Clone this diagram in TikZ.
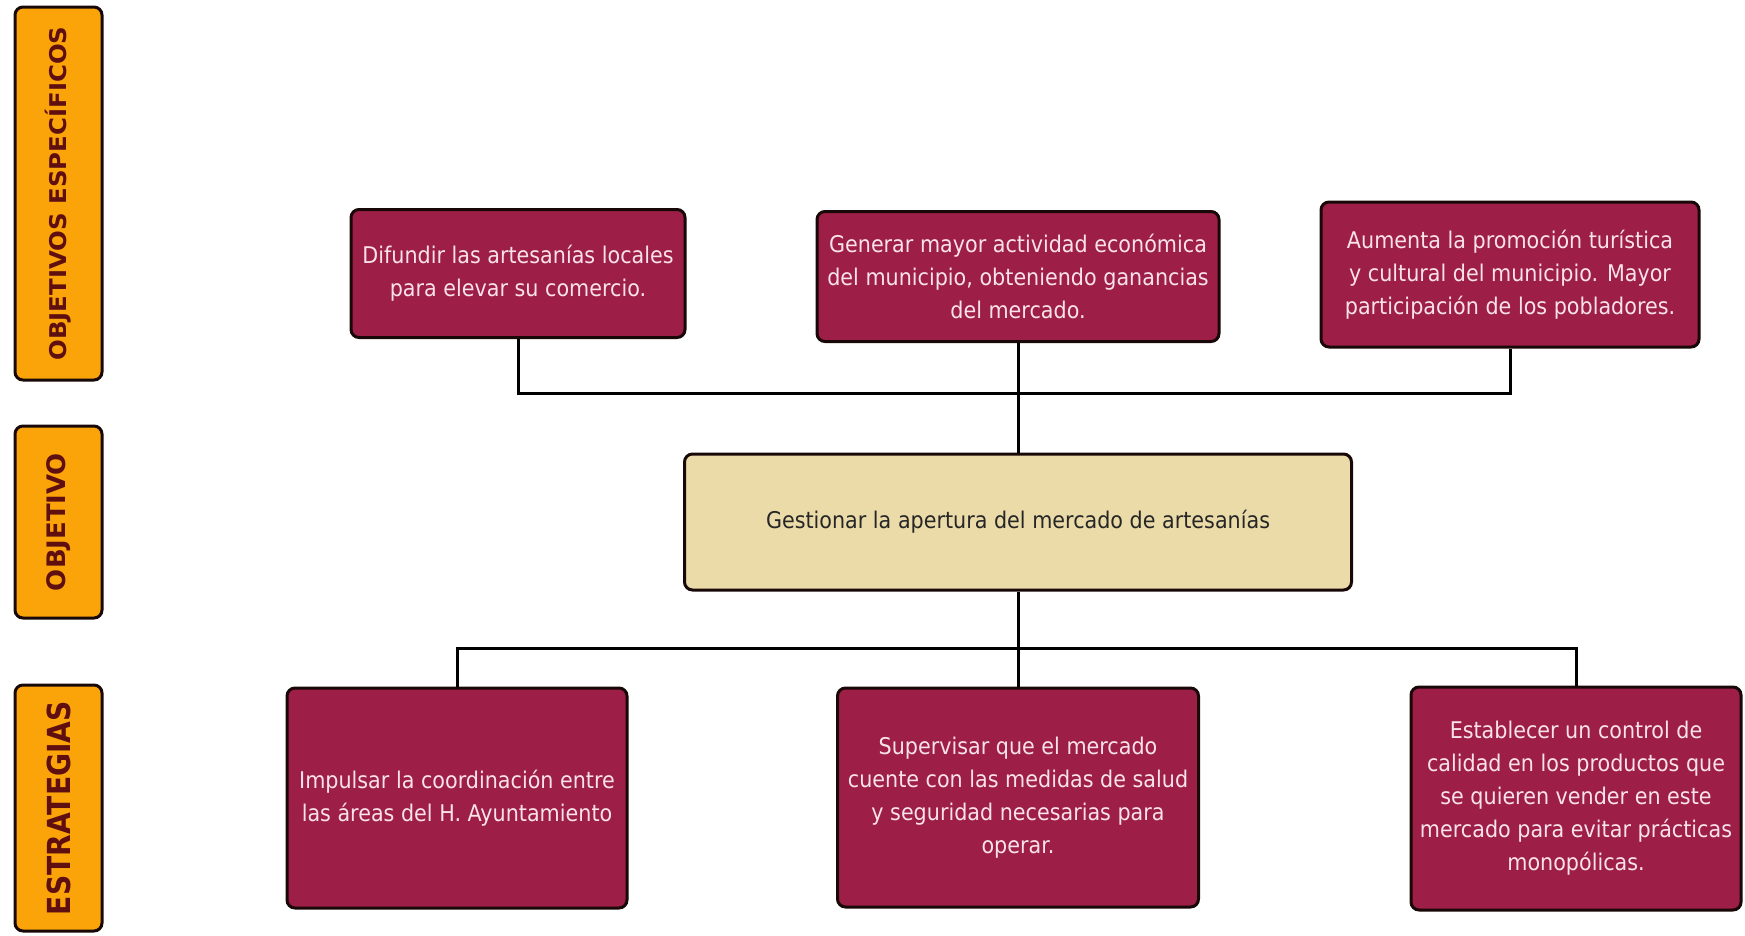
\documentclass[tikz,border=0pt]{standalone}
\usepackage{fontspec}
\setmainfont{DejaVu Sans}[FakeStretch=0.9]
\newfontfamily\bandfont{DejaVu Sans}[FakeStretch=0.8]
\usepackage{graphicx}
\usepackage{xcolor}
\usepackage{tikz}

\definecolor{vino}{RGB}{157,30,70}
\definecolor{rosado}{RGB}{250,226,236}
\definecolor{crema}{RGB}{234,219,168}
\definecolor{naranja}{RGB}{250,164,10}
\definecolor{marron}{RGB}{95,15,15}
\definecolor{borde}{RGB}{25,8,8}

\begin{document}
\begin{tikzpicture}[
    x=1pt,
    y=-1pt,
    caja/.style={
        draw=borde,
        line width=3pt,
        rounded corners=8pt,
        align=center,
        inner sep=2pt,
        font=\fontsize{23}{33}\selectfont
    },
    objetivo/.style={
        caja,
        fill=vino,
        text=rosado
    },
    central/.style={
        caja,
        fill=crema,
        text=black!85
    },
    banda/.style={
        draw=borde,
        line width=3pt,
        rounded corners=8pt,
        fill=naranja,
        minimum width=87pt,
        text=marron,
        font=\bandfont\bfseries
    },
    enlace/.style={
        line width=3pt,
        draw=black
    }
]

\useasboundingbox (0,0) rectangle (1745,935);

% bandas laterales
\node[banda, minimum height=373pt] (bandaesp) at (58.5,193.5) {};
\node[banda, minimum height=192pt] (bandaobj) at (58.5,522) {};
\node[banda, minimum height=246pt] (bandaest) at (58.5,808) {};

\node[rotate=90, text=marron] (txtesp) at (bandaesp.center)
    {\resizebox*{334pt}{26pt}{\bandfont\bfseries OBJETIVOS ESPECÍFICOS}};
\node[rotate=90, text=marron] (txtobj) at (bandaobj.center)
    {\resizebox*{138pt}{24pt}{\bandfont\bfseries OBJETIVO}};
\node[rotate=90, text=marron] (txtest) at (bandaest.center)
    {\resizebox*{214pt}{24pt}{\bandfont\bfseries ESTRATEGIAS}};

% objetivos especificos
\node[objetivo, minimum width=334pt, minimum height=128pt] (obj1) at (518,273.5)
    {Difundir las artesanías locales\\para elevar su comercio.};
\node[objetivo, minimum width=402pt, minimum height=130pt] (obj2) at (1018,276.5)
    {Generar mayor actividad económica\\del municipio, obteniendo ganancias\\del mercado.};
\node[objetivo, minimum width=378pt, minimum height=145pt] (obj3) at (1510,274.5)
    {Aumenta la promoción turística\\y cultural del municipio. Mayor\\participación de los pobladores.};

% objetivo
\node[central, minimum width=667pt, minimum height=136pt] (gen) at (1018,522)
    {Gestionar la apertura del mercado de artesanías};

% estrategias
\node[objetivo, minimum width=340pt, minimum height=220pt] (est1) at (457,798)
    {Impulsar la coordinación entre\\las áreas del H. Ayuntamiento};
\node[objetivo, minimum width=361pt, minimum height=219pt] (est2) at (1018,797.5)
    {Supervisar que el mercado\\cuente con las medidas de salud\\y seguridad necesarias para\\operar.};
\node[objetivo, minimum width=330pt, minimum height=223pt] (est3) at (1576,798.5)
    {Establecer un control de\\calidad en los productos que\\se quieren vender en este\\mercado para evitar prácticas\\monopólicas.};

% uniones
\coordinate (busarriba) at (1018,393);
\coordinate (busabajo) at (1018,648);

\draw[enlace] (obj1.south) |- (busarriba) -| (obj3.south);
\draw[enlace] (obj2.south) -- (gen.north);

\draw[enlace] (est1.north) |- (busabajo) -| (est3.north);
\draw[enlace] (gen.south) -- (est2.north);

\end{tikzpicture}
\end{document}
